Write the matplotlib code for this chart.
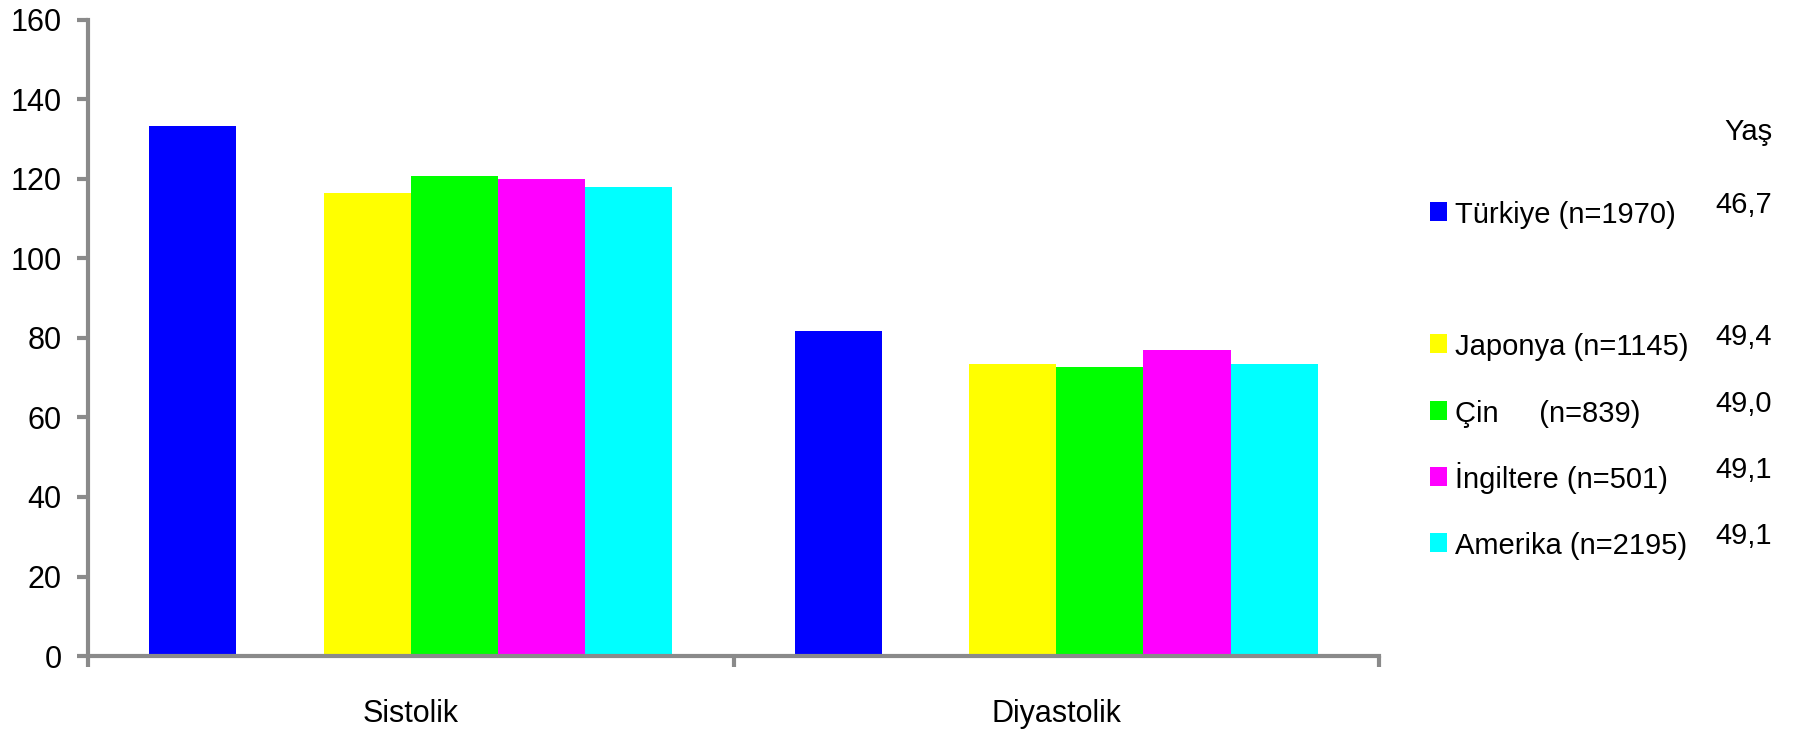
import numpy as np
import matplotlib
matplotlib.use('Agg')
import matplotlib.pyplot as plt
from matplotlib.patches import Rectangle

# ---------------- data

categories = ['Sistolik', 'Diyastolik']
countries  = ['Türkiye', 'Japonya', 'Çin', 'İngiltere', 'Amerika']
n_labels   = ['(n=1970)', '(n=1145)', '(n=839)', '(n=501)', '(n=2195)']
ages       = ['46,7', '49,4', '49,0', '49,1', '49,1']
sistolik   = [133.3, 116.5, 120.8, 120.1, 118.0]
diyastolik = [81.8, 73.5, 72.7, 76.9, 73.5]
colors     = ['#0000ff', '#ffff00', '#00ff00', '#ff00ff', '#00ffff']
slots      = [0, 2, 3, 4, 5]   # slot 1 is an empty series in the original
n_slots    = 6

# ---------------- boilerplate

W, H = 1799, 735
fig = plt.figure(figsize=(W/100, H/100), dpi=100)
ax = fig.add_axes([88/W, 1-656/H, (1379-88)/W, (656-20)/H])

font = 'Liberation Sans'
grey = '#8a8a8a'

# ---------------- bars

x = np.arange(len(categories))
width = 0.81 / n_slots
values = np.array([sistolik, diyastolik]).T
for i, s in enumerate(slots):
    ax.bar(x + (s - (n_slots-1)/2) * width, values[i], width,
           color=colors[i], linewidth=0)

ax.set_xlim(-0.5, 1.5)
ax.set_ylim(0, 160)
ax.set_yticks(np.arange(0, 161, 20))
ax.set_xticks([-0.5, 0.5, 1.5])
ax.set_xticklabels([])
ax.set_xticks(x, minor=True)
ax.set_xticklabels(categories, minor=True, fontsize=22, family=font)

for sp in ['top', 'right']:
    ax.spines[sp].set_visible(False)
for sp in ['left', 'bottom']:
    ax.spines[sp].set_color(grey)
    ax.spines[sp].set_linewidth(3)

ax.tick_params(axis='both', which='major', direction='out', length=8,
               width=3, color=grey)
ax.tick_params(axis='y', labelsize=22, pad=11)
ax.tick_params(axis='x', which='minor', length=0, pad=31)
for lab in ax.get_yticklabels():
    lab.set_family(font)

# ---------------- legend with ages (drawn by hand, pixel layout)

def fx(px):
    return px / W

def fy(py):
    return 1 - py / H

fig.text(fx(1772), fy(140), 'Yaş', ha='right', va='baseline',
         fontsize=21, family=font)
step = 66.2
for i, s in enumerate(slots):
    base = 223 + step * s
    fig.add_artist(Rectangle((fx(1430), fy(base - 2)), 17/W, 19/H,
                             transform=fig.transFigure, color=colors[i], lw=0))
    name = countries[i] + ('     ' if countries[i] == 'Çin' else ' ') + n_labels[i]
    fig.text(fx(1455), fy(base), name, ha='left', va='baseline',
             fontsize=21, family=font)
    fig.text(fx(1772), fy(base - 10), ages[i], ha='right', va='baseline',
             fontsize=21, family=font)

plt.savefig('out.png', dpi=100)
